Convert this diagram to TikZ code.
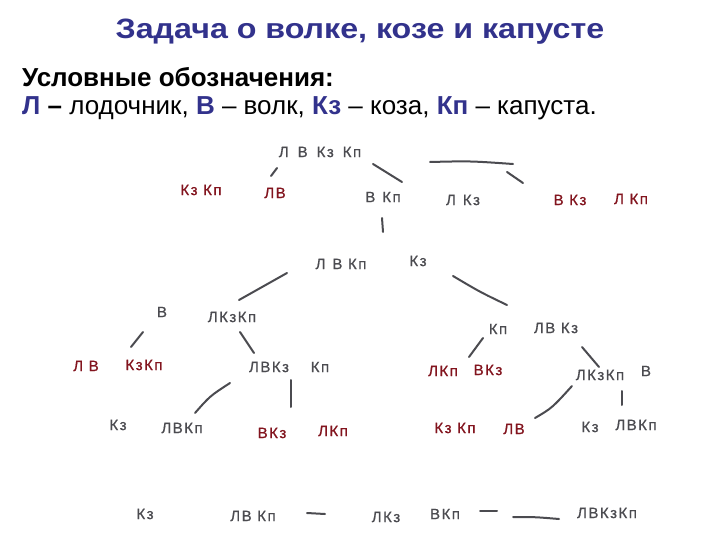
\documentclass[tikz,border=0pt]{standalone}
\usepackage{fontspec}
\setmainfont{Liberation Sans}
\newfontfamily\handfont[LetterSpace=10,FakeBold=0.8]{Liberation Sans}
\definecolor{titleblue}{RGB}{50,50,140}
\definecolor{pencil}{RGB}{75,75,80}
\definecolor{redink}{RGB}{130,20,30}
\tikzset{
  hand/.style={text=pencil, font=\handfont\fontsize{15}{15}\selectfont, inner sep=1pt},
  redhand/.style={hand, text=redink},
  stroke/.style={draw=pencil, line width=2pt, line cap=round},
}
\begin{document}
\begin{tikzpicture}[x=1pt,y=-1pt]
\useasboundingbox (0,0) rectangle (720,540);
% title and legend
\node[anchor=base, font=\bfseries\fontsize{28}{28}\selectfont, text=titleblue, inner sep=0pt] (title) at (360,38.5) {\scalebox{1.15}[1]{Задача о волке, козе и капусте}};
\node[anchor=base west, font=\bfseries\fontsize{26}{26}\selectfont, inner sep=0pt] (leg1) at (22,86.5) {Условные обозначения:};
\node[anchor=base west, font=\fontsize{26}{26}\selectfont, inner sep=0pt] (leg2) at (22,115)
  {\textcolor{titleblue}{\textbf{Л}} \textbf{–} лодочник, \textcolor{titleblue}{\textbf{В}} – волк, \textcolor{titleblue}{\textbf{Кз}} – коза, \textcolor{titleblue}{\textbf{Кп}} – капуста.};
% level 1
\node[hand] (n1) at (320,152) {Л\hspace{9pt}В\hspace{9pt}Кз\hspace{9pt}Кп};
% level 2
\node[redhand] (r1) at (201,190) {Кз Кп};
\node[redhand] (r2) at (275,193) {ЛВ};
\node[hand] (n2) at (383,197) {В\hspace{7pt}Кп};
\node[hand] (n3) at (463,200) {Л\hspace{7pt}Кз};
\node[redhand] (r3) at (570,200) {В Кз};
\node[redhand] (r4) at (631,199) {Л Кп};
% level 3
\node[hand] (n4) at (341,264) {Л\hspace{7pt}В Кп};
\node[hand] (n5) at (418,261) {Кз};
% level 4 left
\node[hand] (n6) at (162,312) {В};
\node[hand] (n7) at (232,317) {ЛКзКп};
\node[redhand] (r5) at (86,366) {Л В};
\node[redhand] (r6) at (144,365) {КзКп};
\node[hand] (n8) at (269,367) {ЛВКз};
\node[hand] (n9) at (320,367) {Кп};
\node[hand] (n10) at (118,425) {Кз};
\node[hand] (n11) at (182,428) {ЛВКп};
\node[redhand] (r7) at (272,433) {ВКз};
\node[redhand] (r8) at (333,431) {ЛКп};
% level 4 right
\node[hand] (n12) at (498,329) {Кп};
\node[hand] (n13) at (556,328) {ЛВ Кз};
\node[redhand] (r9) at (443,371) {ЛКп};
\node[redhand] (r10) at (488,370) {ВКз};
\node[hand] (n14) at (600,375) {ЛКзКп};
\node[hand] (n15) at (646,371) {В};
\node[redhand] (r11) at (455,428) {Кз Кп};
\node[redhand] (r12) at (514,429) {ЛВ};
\node[hand] (n16) at (590,427) {Кз};
\node[hand] (n17) at (636,425) {ЛВКп};
% bottom row
\node[hand] (b1) at (145,514) {Кз};
\node[hand] (b2) at (253,516) {ЛВ Кп};
\node[hand] (b3) at (386,517) {ЛКз};
\node[hand] (b4) at (445,514) {ВКп};
\node[hand] (b5) at (607,513) {ЛВКзКп};
% strokes
\coordinate (s1a) at (271,176); \coordinate (s1b) at (277,168);
\coordinate (s2a) at (373,164); \coordinate (s2b) at (402,182);
\coordinate (s3a) at (382,218); \coordinate (s3b) at (383,232);
\coordinate (s4a) at (430,162); \coordinate (s4b) at (513,164);
\coordinate (s4c) at (507,172); \coordinate (s4d) at (523,183);
\coordinate (s5a) at (239,300); \coordinate (s5b) at (287,273);
\coordinate (s6a) at (453,276); \coordinate (s6b) at (507,305);
\coordinate (s7a) at (143,332); \coordinate (s7b) at (131,347);
\coordinate (s8a) at (240,332); \coordinate (s8b) at (254,353);
\coordinate (s9a) at (230,383); \coordinate (s9b) at (195,413);
\coordinate (s10a) at (291,380); \coordinate (s10b) at (291,407);
\coordinate (s11a) at (483,338); \coordinate (s11b) at (469,357);
\coordinate (s12a) at (582,347); \coordinate (s12b) at (599,367);
\coordinate (s13a) at (572,386); \coordinate (s13b) at (535,418);
\coordinate (s14a) at (622,391); \coordinate (s14b) at (622,405);
\coordinate (s15a) at (307,513); \coordinate (s15b) at (325,514);
\coordinate (s16a) at (480,511); \coordinate (s16b) at (497,511);
\coordinate (s17a) at (513,517); \coordinate (s17b) at (559,519);
\draw[stroke] (s1a) -- (s1b);
\draw[stroke] (s2a) -- (s2b);
\draw[stroke] (s3a) -- (s3b);
\draw[stroke] (s4a) .. controls (470,161) .. (s4b);
\draw[stroke] (s4c) -- (s4d);
\draw[stroke] (s5a) -- (s5b);
\draw[stroke] (s6a) .. controls (480,292) .. (s6b);
\draw[stroke] (s7a) -- (s7b);
\draw[stroke] (s8a) -- (s8b);
\draw[stroke] (s9a) .. controls (210,396) .. (s9b);
\draw[stroke] (s10a) -- (s10b);
\draw[stroke] (s11a) -- (s11b);
\draw[stroke] (s12a) -- (s12b);
\draw[stroke] (s13a) .. controls (552,408) .. (s13b);
\draw[stroke] (s14a) -- (s14b);
\draw[stroke] (s15a) -- (s15b);
\draw[stroke] (s16a) -- (s16b);
\draw[stroke] (s17a) .. controls (535,517) .. (s17b);
\end{tikzpicture}
\end{document}
